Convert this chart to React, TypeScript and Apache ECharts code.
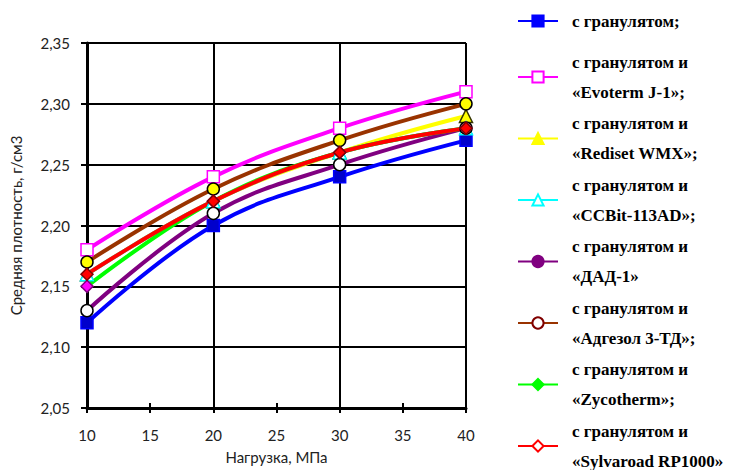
import React, { useEffect, useRef } from "react";
import * as echarts from "echarts";

const loads = [10, 20, 30, 40];
const yTicks = [2.05, 2.1, 2.15, 2.2, 2.25, 2.3, 2.35];

const names = [
  "с гранулятом;",
  "с гранулятом и\n«Evoterm J-1»;",
  "с гранулятом и\n«Rediset WMX»;",
  "с гранулятом и\n«CCBit-113AD»;",
  "с гранулятом и\n«ДАД-1»",
  "с гранулятом и\n«Адгезол 3-ТД»;",
  "с гранулятом и\n«Zycotherm»;",
  "с гранулятом и\n«Sylvaroad RP1000»",
];

const granulate = [2.12, 2.2, 2.24, 2.27];
const evoterm = [2.18, 2.24, 2.28, 2.31];
const rediset = [2.16, 2.22, 2.26, 2.29];
const ccbit = [2.16, 2.22, 2.26, 2.28];
const dad = [2.13, 2.21, 2.25, 2.28];
const adgezol = [2.17, 2.23, 2.27, 2.3];
const zycotherm = [2.15, 2.22, 2.26, 2.28];
const sylvaroad = [2.16, 2.22, 2.26, 2.28];

const values = [granulate, evoterm, rediset, ccbit, dad, adgezol, zycotherm, sylvaroad];

// legend look (series-level) and plot marker look (data-level)
const looks = [
  { color: "#0000ff", sym: "rect", fill: "#0000ff", border: "#0000ff", pSym: "rect", pFill: "#0000cc", pBorder: "#0000ff", pSize: 12 },
  { color: "#ff00ff", sym: "rect", fill: "#ffffff", border: "#ff00ff", pSym: "rect", pFill: "#ffffff", pBorder: "#ff00ff", pSize: 12 },
  { color: "#ffff00", sym: "triangle", fill: "#ffff00", border: "#ffff00", pSym: "triangle", pFill: "#ffff00", pBorder: "#333300", pSize: 13 },
  { color: "#00ffff", sym: "triangle", fill: "#ffffff", border: "#00ffff", pSym: "triangle", pFill: "#ffffff", pBorder: "#00ffff", pSize: 13 },
  { color: "#800080", sym: "circle", fill: "#800080", border: "#800080", pSym: "circle", pFill: "#ffffff", pBorder: "#000000", pSize: 12 },
  { color: "#993300", sym: "circle", fill: "#ffffff", border: "#800000", pSym: "circle", pFill: "#ffff00", pBorder: "#000000", pSize: 12 },
  { color: "#00ff00", sym: "diamond", fill: "#00ff00", border: "#00ff00", pSym: "diamond", pFill: "#ff00ff", pBorder: "#800080", pSize: 12 },
  { color: "#ff0000", sym: "diamond", fill: "#ffffff", border: "#ff0000", pSym: "diamond", pFill: "#ff0000", pBorder: "#800000", pSize: 12 },
];

export default function App() {
  const ref = useRef<HTMLDivElement>(null);
  useEffect(() => {
    if (!ref.current) return;
    const chart = echarts.init(ref.current, null, { renderer: "svg" });
    const series = names.map((name, i) => {
      const lk = looks[i];
      return {
        name,
        type: "line",
        smooth: 0.4,
        symbol: lk.sym,
        symbolSize: 12,
        lineStyle: { color: lk.color, width: 4 },
        itemStyle: { color: lk.fill, borderColor: lk.border, borderWidth: 2 },
        emphasis: { disabled: true },
        data: loads.map((x, j) => ({
          value: [x, values[i][j]],
          symbol: lk.pSym,
          symbolSize: lk.pSize,
          itemStyle: { color: lk.pFill, borderColor: lk.pBorder, borderWidth: 1.5 },
        })),
      };
    });
    const legendText = {
      fontFamily: "Liberation Serif",
      fontWeight: "bold",
      fontSize: 17,
      color: "#000",
      lineHeight: 30,
      padding: [0, 0, 0, 9],
    };
    chart.setOption({
      animation: false,
      backgroundColor: "#fff",
      grid: { left: 86, right: 268, top: 43, bottom: 62 },
      legend: [
        {
          data: [names[0]],
          orient: "vertical",
          left: 512,
          top: 1,
          itemWidth: 40,
          itemHeight: 14,
          textStyle: legendText,
          selectedMode: false,
        },
        {
          data: names.slice(1),
          orient: "vertical",
          left: 512,
          top: 42,
          height: 600,
          itemGap: 1.5,
          itemWidth: 40,
          itemHeight: 14,
          textStyle: legendText,
          selectedMode: false,
        },
      ],
      xAxis: [
        {
          type: "value",
          min: 10,
          max: 40,
          interval: 5,
          name: "Нагрузка, МПа",
          nameLocation: "middle",
          nameGap: 41,
          nameTextStyle: { fontFamily: "Lato", fontSize: 15, color: "#222" },
          axisLine: { show: true, onZero: false, lineStyle: { color: "#000", width: 3 } },
          axisTick: { show: true, length: 5, lineStyle: { color: "#000", width: 2 } },
          axisLabel: { fontFamily: "Lato", fontSize: 15, color: "#222", margin: 19 },
          splitLine: { show: false },
        },
        {
          type: "value",
          min: 10,
          max: 40,
          interval: 5,
          position: "bottom",
          axisLine: { show: false },
          axisTick: { show: true, inside: true, length: 5, lineStyle: { color: "#000", width: 2 } },
          axisLabel: { show: false },
          splitLine: { show: false },
        },
        {
          type: "value",
          min: 10,
          max: 40,
          interval: 10,
          position: "bottom",
          axisLine: { show: false },
          axisTick: { show: false },
          axisLabel: { show: false },
          splitLine: { show: true, lineStyle: { color: "#000", width: 2 } },
        },
      ],
      yAxis: {
        type: "value",
        min: yTicks[0],
        max: yTicks[yTicks.length - 1],
        interval: 0.05,
        name: "Средняя плотность, г/см3",
        nameLocation: "middle",
        nameGap: 64,
        nameTextStyle: { fontFamily: "Lato", fontSize: 15, color: "#222" },
        axisLine: { show: true, lineStyle: { color: "#000", width: 3 } },
        axisTick: { show: true, length: 6, lineStyle: { color: "#000", width: 2 } },
        axisLabel: {
          fontFamily: "Lato",
          fontSize: 15,
          color: "#222",
          margin: 17,
          formatter: (v: number) => v.toFixed(2).replace(".", ","),
        },
        splitLine: { show: true, lineStyle: { color: "#000", width: 2 } },
      },
      series,
    });
    return () => chart.dispose();
  }, []);
  return <div ref={ref} style={{ width: 734, height: 470, position: "absolute", left: 0, top: 0 }} />;
}
